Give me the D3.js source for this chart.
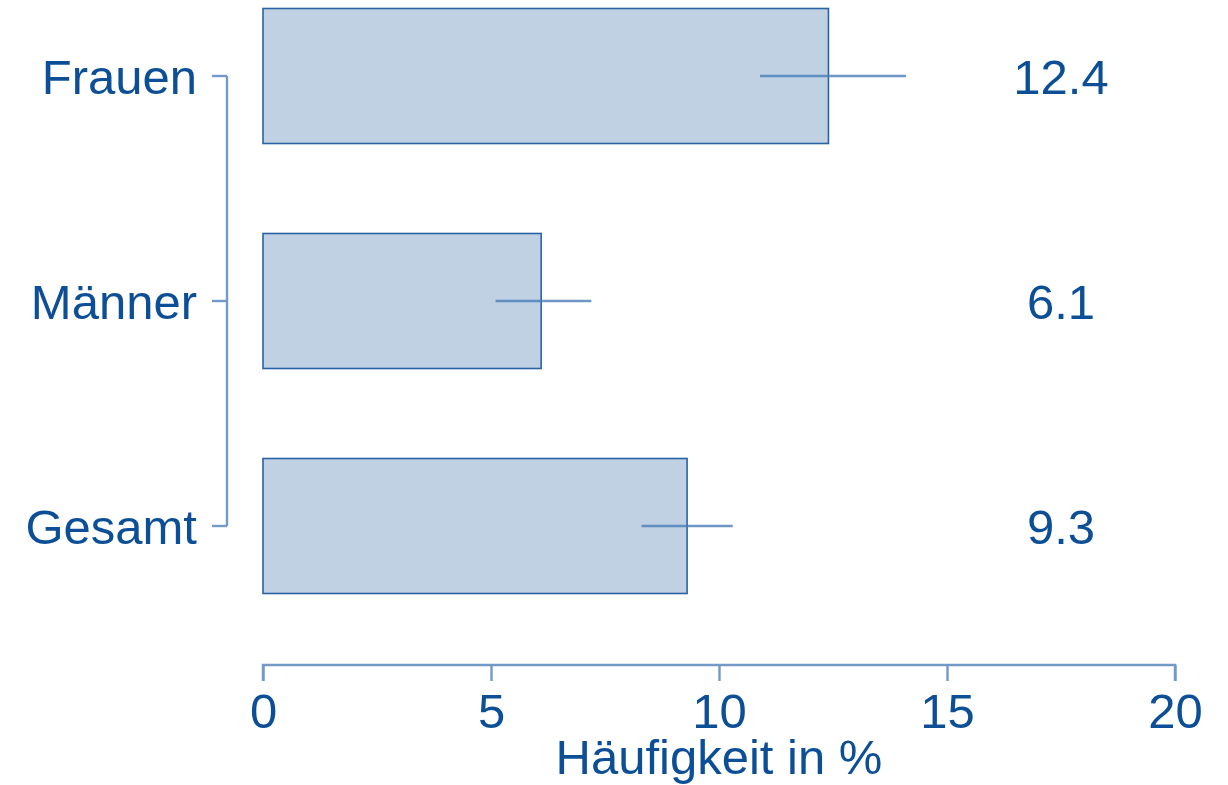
<!DOCTYPE html>
<html>
<head>
<meta charset="utf-8">
<script src="https://cdn.jsdelivr.net/npm/d3@7"></script>
<style>
  html, body { margin: 0; padding: 0; background: #fff; }
  svg { display: block; font-family: "Liberation Sans", Arial, sans-serif; }
</style>
</head>
<body>
<svg id="chart" width="1228" height="785"></svg>
<script>
// Prevalence by group with confidence intervals
const categories = ["Frauen", "Männer", "Gesamt"];
const values = [12.4, 6.1, 9.3];
const ciLower = [10.9, 5.1, 8.3];
const ciUpper = [14.1, 7.2, 10.3];
const xTicks = [0, 5, 10, 15, 20];
const axisTitle = "Häufigkeit in %";

const textColor = "#0d4f97";
const axisColor = "#7399c6";
const barFill = "#bfd1e3";
const barStroke = "#2a63a3";
const ciColor = "#4a7db6";

const svg = d3.select("#chart");

const x = d3.scaleLinear().domain([0, 20]).range([263, 1175]);
const y = d3.scaleBand().domain(categories).range([-36.5, 638.5]).paddingInner(0.4).paddingOuter(0.2);
// band step 225, bar height 135
const yc = d => y(d) + y.bandwidth() / 2;

// bars
svg.append("g").selectAll("rect")
  .data(categories)
  .join("rect")
  .attr("x", x(0))
  .attr("y", d => y(d))
  .attr("width", (d, i) => x(values[i]) - x(0))
  .attr("height", y.bandwidth())
  .attr("fill", barFill)
  .attr("stroke", barStroke)
  .attr("stroke-width", 1.6);

// confidence intervals
svg.append("g").selectAll("line")
  .data(categories)
  .join("line")
  .attr("x1", (d, i) => x(ciLower[i]))
  .attr("x2", (d, i) => x(ciUpper[i]))
  .attr("y1", d => yc(d))
  .attr("y2", d => yc(d))
  .attr("stroke", ciColor)
  .attr("stroke-opacity", 0.8)
  .attr("stroke-width", 2.6);

// value labels
svg.append("g").selectAll("text")
  .data(categories)
  .join("text")
  .attr("x", 1061)
  .attr("y", d => yc(d) + 17.5)
  .attr("text-anchor", "middle")
  .attr("font-size", 49)
  .attr("fill", textColor)
  .text((d, i) => values[i].toFixed(1));

// left axis (category)
const yAxisX = 227;
const gy = svg.append("g");
gy.append("line")
  .attr("x1", yAxisX).attr("x2", yAxisX)
  .attr("y1", yc(categories[0])).attr("y2", yc(categories[categories.length - 1]))
  .attr("stroke", axisColor).attr("stroke-width", 2.4);
gy.selectAll("line.tick")
  .data(categories)
  .join("line")
  .attr("class", "tick")
  .attr("x1", 212).attr("x2", yAxisX)
  .attr("y1", d => yc(d)).attr("y2", d => yc(d))
  .attr("stroke", axisColor).attr("stroke-width", 2.4);
gy.selectAll("text")
  .data(categories)
  .join("text")
  .attr("x", 197)
  .attr("y", d => yc(d) + 17.5)
  .attr("text-anchor", "end")
  .attr("font-size", 49)
  .attr("fill", textColor)
  .text(d => d);

// bottom axis (value)
const xAxisY = 665;
const gx = svg.append("g")
  .attr("transform", `translate(0,${xAxisY})`)
  .call(d3.axisBottom(x).tickValues(xTicks).tickSize(16).tickPadding(11).tickFormat(d3.format("d")));
gx.select(".domain").attr("stroke", axisColor).attr("stroke-width", 2.4).attr("d", `M${x(0)},16V0H${x(20)}V16`);
gx.selectAll(".tick line").attr("stroke", axisColor).attr("stroke-width", 2.4);
gx.selectAll(".tick text")
  .attr("font-size", 49)
  .attr("fill", textColor)
  .attr("font-family", "Liberation Sans, Arial, sans-serif")
  .attr("dy", null)
  .attr("y", 63);

// axis title
svg.append("text")
  .attr("x", (x(0) + x(20)) / 2)
  .attr("y", 774)
  .attr("text-anchor", "middle")
  .attr("font-size", 49)
  .attr("fill", textColor)
  .text(axisTitle);
</script>
</body>
</html>
